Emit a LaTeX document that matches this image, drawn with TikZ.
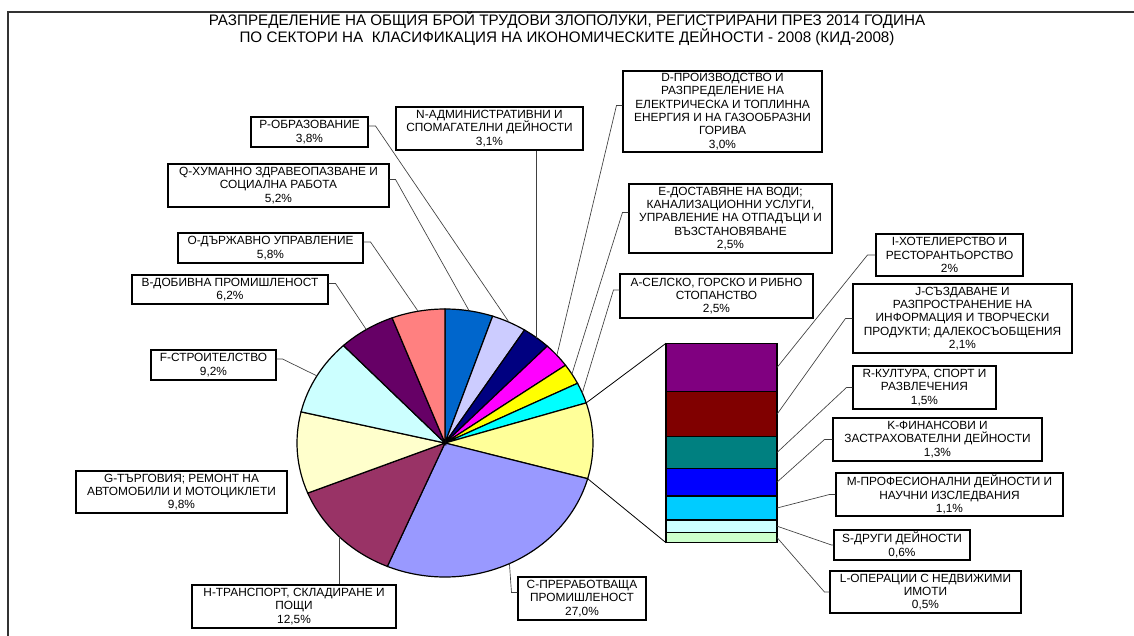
\documentclass[tikz,border=0pt]{standalone}
\usepackage{fontspec}
\setmainfont{Liberation Sans}
\usepackage{tikz}
\usetikzlibrary{calc}

\definecolor{sliceQ}{HTML}{0066CC}
\definecolor{sliceP}{HTML}{CCCCFF}
\definecolor{sliceN}{HTML}{000080}
\definecolor{sliceD}{HTML}{FF00FF}
\definecolor{sliceE}{HTML}{FFFF00}
\definecolor{sliceA}{HTML}{00FFFF}
\definecolor{sliceX}{HTML}{FFFF99}
\definecolor{sliceC}{HTML}{9999FF}
\definecolor{sliceH}{HTML}{993366}
\definecolor{sliceG}{HTML}{FFFFCC}
\definecolor{sliceF}{HTML}{CCFFFF}
\definecolor{sliceB}{HTML}{660066}
\definecolor{sliceO}{HTML}{FF8080}
\definecolor{barI}{HTML}{800080}
\definecolor{barJ}{HTML}{800000}
\definecolor{barR}{HTML}{008080}
\definecolor{barK}{HTML}{0000FF}
\definecolor{barM}{HTML}{00CCFF}
\definecolor{barS}{HTML}{CCFFFF}
\definecolor{barL}{HTML}{CCFFCC}

\begin{document}
\begin{tikzpicture}[x=0.75pt,y=-0.75pt,
            lbl-node/.style={draw=black,line width=0.8pt,fill=white,align=center,inner sep=0pt,
                font=\fontsize{8.9}{10}\selectfont},
            title-node/.style={align=center,font=\fontsize{11.4}{12.75}\selectfont},
            slice-line/.style={draw=black,line width=0.9pt},
            leader/.style={draw=black!75,line width=0.5pt},
        ]
            \useasboundingbox (0,0) rectangle (1134,635);
            \draw[black!80,line width=1.1pt] (8,640) -- (8,12) -- (1140,12);

            \node[title-node] (title) at (567,29) {РАЗПРЕДЕЛЕНИЕ НА ОБЩИЯ БРОЙ ТРУДОВИ ЗЛОПОЛУКИ, РЕГИСТРИРАНИ ПРЕЗ 2014 ГОДИНА\\
                ПО СЕКТОРИ НА\ \ КЛАСИФИКАЦИЯ НА ИКОНОМИЧЕСКИТЕ ДЕЙНОСТИ - 2008 (КИД-2008)};

            \begin{scope}[shift={(445,443)}]
                \foreach \a/\b/\c/\n in {-90/-71.22/sliceQ/Q, -71.22/-57.5/sliceP/P, -57.5/-46.31/sliceN/N,
                        -46.31/-35.48/sliceD/D, -35.48/-26.45/sliceE/E, -26.45/-17.42/sliceA/A,
                        -17.42/15.44/sliceX/X, 15.44/112.93/sliceC/C, 112.93/158.06/sliceH/H,
                        158.06/193.45/sliceG/G, 193.45/226.67/sliceF/F, 226.67/249.06/sliceB/B,
                        249.06/270/sliceO/O} {
                    \filldraw[slice-line,fill=\c] (0,0) -- (\a:148 and 134)
                        arc[start angle=\a,end angle=\b,x radius=148,y radius=134] -- cycle;
                    \coordinate (s\n) at ({(\a+\b)/2}:148 and 134);
                }
                \coordinate (oT) at (-17.42:148 and 134);
                \coordinate (oB) at (15.44:148 and 134);
            \end{scope}

            \foreach \t/\u/\c/\n in {343.3/391.7/barI/I, 391.7/436.7/barJ/J, 436.7/468.3/barR/R,
                    468.3/496/barK/K, 496/520/barM/M, 520/532.3/barS/S, 532.3/542.7/barL/L} {
                \filldraw[slice-line,fill=\c] (666,\t) rectangle (777,\u);
                \coordinate (b\n) at (777,{(\t+\u)/2});
            }
            \coordinate (barT) at (666,343.3);
            \coordinate (barB) at (666,542.7);
            \draw[black,line width=0.6pt] (oT) -- (barT);
            \draw[black,line width=0.6pt] (oB) -- (barB);

            \node[lbl-node,minimum width=87.75pt,minimum height=22.5pt] (P) at (309.5,132) {P-ОБРАЗОВАНИЕ\\3,8\%};
            \node[lbl-node,minimum width=140.25pt,minimum height=32.25pt] (N) at (489.5,128.5) {N-АДМИНИСТРАТИВНИ И\\СПОМАГАТЕЛНИ ДЕЙНОСТИ\\3,1\%};
            \node[lbl-node,minimum width=165.75pt,minimum height=32.25pt] (Q) at (278.5,185.5) {Q-ХУМАННО ЗДРАВЕОПАЗВАНЕ И\\СОЦИАЛНА РАБОТА\\5,2\%};
            \node[lbl-node,minimum width=138.75pt,minimum height=22.5pt] (O) at (270.5,248) {O-ДЪРЖАВНО УПРАВЛЕНИЕ\\5,8\%};
            \node[lbl-node,minimum width=147pt,minimum height=21.75pt] (B) at (230,289.5) {B-ДОБИВНА ПРОМИШЛЕНОСТ\\6,2\%};
            \node[lbl-node,minimum width=93.75pt,minimum height=22.5pt] (F) at (213.5,365) {F-СТРОИТЕЛСТВО\\9,2\%};
            \node[lbl-node,minimum width=158.25pt,minimum height=31.5pt] (G) at (181.5,492) {G-ТЪРГОВИЯ; РЕМОНТ НА\\АВТОМОБИЛИ И МОТОЦИКЛЕТИ\\9,8\%};
            \node[lbl-node,minimum width=153pt,minimum height=32.25pt] (H) at (294,606.5) {H-ТРАНСПОРТ, СКЛАДИРАНЕ И\\ПОЩИ\\12,5\%};
            \node[lbl-node,minimum width=96pt,minimum height=32.25pt] (C) at (582,598.5) {C-ПРЕРАБОТВАЩА\\ПРОМИШЛЕНОСТ\\27,0\%};
            \node[lbl-node,minimum width=149.25pt,minimum height=60.75pt] (D) at (722.5,111.5) {D-ПРОИЗВОДСТВО И\\РАЗПРЕДЕЛЕНИЕ НА\\ЕЛЕКТРИЧЕСКА И ТОПЛИННА\\ЕНЕРГИЯ И НА ГАЗООБРАЗНИ\\ГОРИВА\\3,0\%};
            \node[lbl-node,minimum width=152.25pt,minimum height=51.75pt] (E) at (730.5,218.5) {E-ДОСТАВЯНЕ НА ВОДИ;\\КАНАЛИЗАЦИОННИ УСЛУГИ,\\УПРАВЛЕНИЕ НА ОТПАДЪЦИ И\\ВЪЗСТАНОВЯВАНЕ\\2,5\%};
            \node[lbl-node,minimum width=144.75pt,minimum height=33pt] (A) at (716.5,296) {A-СЕЛСКО, ГОРСКО И РИБНО\\СТОПАНСТВО\\2,5\%};
            \node[lbl-node,minimum width=110.25pt,minimum height=31.5pt] (I) at (949.5,255) {I-ХОТЕЛИЕРСТВО И\\РЕСТОРАНТЬОРСТВО\\2\%};
            \node[lbl-node,minimum width=164.25pt,minimum height=51.75pt] (J) at (962.5,318.5) {J-СЪЗДАВАНЕ И\\РАЗПРОСТРАНЕНИЕ НА\\ИНФОРМАЦИЯ И ТВОРЧЕСКИ\\ПРОДУКТИ; ДАЛЕКОСЪОБЩЕНИЯ\\2,1\%};
            \node[lbl-node,minimum width=107.25pt,minimum height=32.25pt] (R) at (924.5,387.5) {R-КУЛТУРА, СПОРТ И\\РАЗВЛЕЧЕНИЯ\\1,5\%};
            \node[lbl-node,minimum width=156.75pt,minimum height=32.25pt] (K) at (937.5,439.5) {K-ФИНАНСОВИ И\\ЗАСТРАХОВАТЕЛНИ ДЕЙНОСТИ\\1,3\%};
            \node[lbl-node,minimum width=170.25pt,minimum height=32.25pt] (M) at (949.5,494.5) {M-ПРОФЕСИОНАЛНИ ДЕЙНОСТИ И\\НАУЧНИ ИЗСЛЕДВАНИЯ\\1,1\%};
            \node[lbl-node,minimum width=102pt,minimum height=22.5pt] (S) at (902,545) {S-ДРУГИ ДЕЙНОСТИ\\0,6\%};
            \node[lbl-node,minimum width=143.25pt,minimum height=31.5pt] (L) at (925.5,592) {L-ОПЕРАЦИИ С НЕДВИЖИМИ\\ИМОТИ\\0,5\%};

            \draw[leader] ([yshift=4.5pt]P.east) -- ++(7,0) -- (sP);
            \draw[leader] ([yshift=4.5pt]Q.east) -- ++(6,0) -- (sQ);
            \draw[leader] ([yshift=4.5pt]O.east) -- ++(7,0) -- (sO);
            \draw[leader] ([yshift=4.5pt]B.east) -- ++(7,0) -- (sB);
            \draw[leader] ([yshift=4.5pt]F.east) -- ++(6,0) -- (sF);
            \draw[leader] (N.south -| sN) -- (sN);
            \draw[leader] ([yshift=4.5pt]D.west) -- ++(-6,0) -- (sD);
            \draw[leader] ([yshift=4.5pt]E.west) -- ++(-6,0) -- (sE);
            \draw[leader] ([yshift=4.5pt]A.west) -- ++(-6,0) -- (sA);
            \draw[leader] ([yshift=4.5pt]C.west) -- ++(-6,0) -- (sC);
            \draw[leader] (H.north -| sH) -- (sH);
            \draw[leader] (I.west) -- ++(-8,0) -- (bI);
            \draw[leader] (J.west) -- ++(-7,0) -- (bJ);
            \draw[leader] (R.west) -- ++(-6,0) -- (bR);
            \draw[leader] (K.west) -- ++(-8,0) -- (bK);
            \draw[leader] (M.west) -- ++(-6,0) -- (bM);
            \draw[leader] (S.west) -- ++(-2,0) -- (bS);
            \draw[leader] (L.west) -- ++(-5,0) -- (bL);
        \end{tikzpicture}
\end{document}
